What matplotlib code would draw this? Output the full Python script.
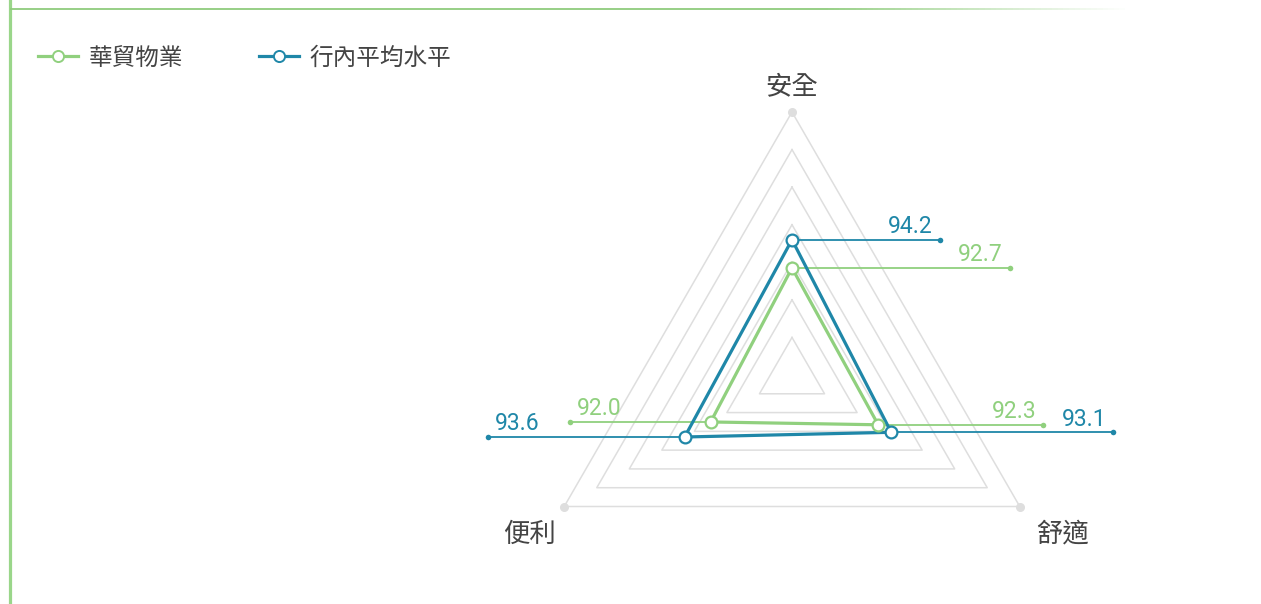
import numpy as np
import matplotlib
matplotlib.use("Agg")
import matplotlib.pyplot as plt
from matplotlib.lines import Line2D
from matplotlib.collections import LineCollection

plt.rcParams['font.family'] = ['Noto Sans CJK TC', 'DejaVu Sans']

# data
axes_names = ["安全", "舒適", "便利"]
series_names = ["華貿物業", "行內平均水平"]
huamao = [92.7, 92.3, 92.0]
industry = [94.2, 93.1, 93.6]
r_min, r_max, n_levels = 87, 101, 7

GREEN = "#90d07e"
BLUE = "#1f87a8"
GRID = "#dedede"
TXT = "#444444"

W, H, DPI = 1261, 604, 100
fig = plt.figure(figsize=(W / DPI, H / DPI), dpi=DPI)
ax = fig.add_axes([0, 0, 1, 1])
ax.axis('off')

# radar centre / radius in pixels
cx, cy, R = 792, 375, 263
ax.set_xlim(-cx / R, (W - cx) / R)
ax.set_ylim((cy - H) / R, cy / R)

theta = np.deg2rad([90, -30, 210])  # 安全 top, 舒適 bottom-right, 便利 bottom-left


def xy(vals):
    r = (np.asarray(vals, float) - r_min) / (r_max - r_min)
    return r * np.cos(theta), r * np.sin(theta)


# triangular grid
for k in range(1, n_levels + 1):
    f = k / n_levels
    gx = np.append(f * np.cos(theta), f * np.cos(theta[0]))
    gy = np.append(f * np.sin(theta), f * np.sin(theta[0]))
    ax.plot(gx, gy, color=GRID, lw=1.1, zorder=1)
ax.plot(np.cos(theta), np.sin(theta), 'o', ms=6.5, color=GRID, mec='none', zorder=1)

# axis names
name_off = [(0, 18), (31, -20), (-25, -20)]
for i, nm in enumerate(axes_names):
    ax.annotate(nm, (np.cos(theta[i]), np.sin(theta[i])), xytext=name_off[i],
                textcoords='offset points', ha='center', va='center',
                fontsize=19, color=TXT)

# leader line end x (pixels) per series, per axis
ends = {
    0: [1010, 1043, 570],
    1: [940, 1113, 488],
}

for s, (vals, col) in enumerate([(huamao, GREEN), (industry, BLUE)]):
    x, y = xy(vals)
    ax.plot(np.append(x, x[0]), np.append(y, y[0]), color=col, lw=2.3, zorder=3)
    for i in range(3):
        ex = (ends[s][i] - cx) / R
        ax.plot([x[i], ex], [y[i], y[i]], color=col, lw=1.3, zorder=2)
        ax.plot(ex, y[i], 'o', ms=4, color=col, mec='none', zorder=2)
        if ex > x[i]:
            ax.annotate(f"{vals[i]:.1f}", (ex, y[i]), xytext=(-5, 1.2),
                        textcoords='offset points', ha='right', va='bottom',
                        fontsize=16.5, color=col, family='Roboto')
        else:
            ax.annotate(f"{vals[i]:.1f}", (ex, y[i]), xytext=(5, 1.2),
                        textcoords='offset points', ha='left', va='bottom',
                        fontsize=16.5, color=col, family='Roboto')
    ax.plot(x, y, 'o', ms=8.5, mfc='white', mec=col, mew=1.6, zorder=4)

# legend
handles = [Line2D([], [], color=c, lw=2.3, marker='o', ms=8, mfc='white', mec=c, mew=1.4)
           for c in (GREEN, BLUE)]
leg = ax.legend(handles, series_names, loc='center left', ncol=2,
                bbox_to_anchor=(38 / W, 1 - 58 / H), bbox_transform=fig.transFigure,
                frameon=False, borderpad=0, borderaxespad=0, handlelength=1.7,
                handletextpad=0.45, columnspacing=3.2, fontsize=17)
for t in leg.get_texts():
    t.set_color(TXT)

# decorative frame: left bar and fading top line
fig.add_artist(Line2D([10 / W, 10 / W], [0, 1], transform=fig.transFigure,
                      color="#9ad68a", lw=2.3))
xs = np.linspace(10, 1125, 200)
segs = [[(xs[j] / W, 1 - 9 / H), (xs[j + 1] / W, 1 - 9 / H)] for j in range(len(xs) - 1)]
alphas = np.clip((1125 - xs[:-1]) / 300, 0, 1)
cols = [(0.56, 0.80, 0.49, a) for a in alphas]
fig.add_artist(LineCollection(segs, colors=cols, linewidths=1.3, transform=fig.transFigure))

fig.savefig("out.png", dpi=DPI)
